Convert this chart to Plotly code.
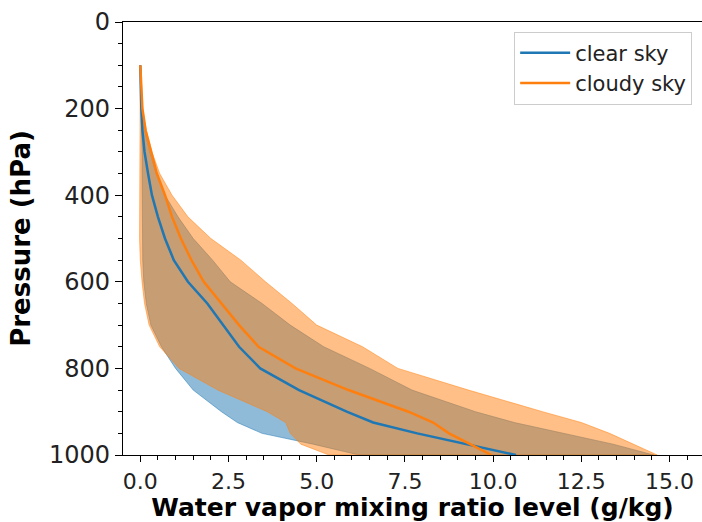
import plotly.graph_objects as go

# Pressure levels (hPa)
pressure = [100, 150, 200, 250, 300, 350, 400, 450, 500, 550, 600, 650,
            700, 750, 800, 850, 900, 925, 950, 975, 1000]

# Clear sky: mean and band edges (g/kg)
clear_mean = [0.0, 0.01, 0.03, 0.06, 0.12, 0.22, 0.33, 0.5, 0.7, 0.95, 1.35, 1.9,
              2.35, 2.8, 3.4, 4.5, 5.85, 6.6, 7.85, 9.25, 10.65]
clear_upper = [0.0, 0.02, 0.05, 0.12, 0.27, 0.45, 0.7, 1.07, 1.5, 2.05, 2.55, 3.45,
               4.25, 5.2, 6.5, 7.7, 9.5, 10.6, 12.0, 13.4, 14.55]
clear_lower = [0.0, 0.0, 0.02, 0.04, 0.05, 0.05, 0.05, 0.05, 0.06, 0.07, 0.1, 0.17,
               0.3, 0.6, 1.0, 1.5, 2.3, 2.75, 3.45, 4.9, 6.2]

# Cloudy sky: mean and band edges (g/kg)
cloudy_mean = [0.0, 0.02, 0.06, 0.15, 0.3, 0.47, 0.7, 0.9, 1.15, 1.45, 1.8, 2.3,
               2.8, 3.35, 4.4, 5.9, 7.6, 8.3, 8.75, 9.35, 9.95]
cloudy_upper = [0.0, 0.02, 0.07, 0.17, 0.33, 0.55, 0.9, 1.35, 2.0, 2.85, 3.55, 4.3,
                5.0, 6.3, 7.3, 9.3, 11.4, 12.5, 13.3, 14.0, 14.65]
cloudy_lower = [0.0, 0.0, 0.0, -0.01, -0.02, -0.02, -0.02, -0.02, -0.02, 0.0, 0.05, 0.12,
                0.25, 0.55, 1.1, 2.2, 3.6, 4.12, 4.25, 4.55, 5.35]

x_ticks = [0.0, 2.5, 5.0, 7.5, 10.0, 12.5, 15.0]
y_ticks = [0, 200, 400, 600, 800, 1000]

BLUE = "#1f77b4"
ORANGE = "#ff7f0e"
BLUE_FILL = "rgba(31,119,180,0.5)"
ORANGE_FILL = "rgba(255,127,14,0.5)"

fig = go.Figure()


def band(upper, lower, fill):
    return go.Scatter(
        x=list(upper) + list(lower)[::-1],
        y=list(pressure) + list(pressure)[::-1],
        fill="toself", fillcolor=fill,
        line=dict(color=fill, width=1),
        mode="lines", showlegend=False, hoverinfo="skip",
    )


fig.add_trace(band(clear_upper, clear_lower, BLUE_FILL))
fig.add_trace(band(cloudy_upper, cloudy_lower, ORANGE_FILL))
fig.add_trace(go.Scatter(x=clear_mean, y=pressure, mode="lines", name="clear sky",
                         line=dict(color=BLUE, width=2.5)))
fig.add_trace(go.Scatter(x=cloudy_mean, y=pressure, mode="lines", name="cloudy sky",
                         line=dict(color=ORANGE, width=2.5)))

font_family = "DejaVu Sans"

fig.update_layout(
    width=702, height=522,
    margin=dict(l=123, r=0, t=22, b=67, autoexpand=False),
    paper_bgcolor="white", plot_bgcolor="white",
    font=dict(family=font_family, color="black"),
    legend=dict(
        x=0.983, y=0.978, xanchor="right", yanchor="top",
        bgcolor="rgba(255,255,255,0.8)", bordercolor="#cccccc", borderwidth=1,
        font=dict(size=21, family=font_family, color="#222222"),
        itemwidth=50, tracegroupgap=0,
    ),
    xaxis=dict(
        range=[-0.49, 15.92],
        tickvals=x_ticks, ticktext=[f"{v:.1f}" for v in x_ticks],
        ticks="outside", ticklen=6, tickwidth=1.2, tickcolor="black",
        showline=True, linecolor="black", linewidth=1.2, mirror=True,
        showgrid=False, zeroline=False,
        tickfont=dict(size=22, family=font_family, color="#222222"),
        minor=dict(dtick=0.5, tick0=0, ticks="outside", ticklen=4, tickcolor="black", showgrid=False),
        title=dict(text="<b>Water vapor mixing ratio level (g/kg)</b>",
                   font=dict(size=25, family=font_family, color="black"), standoff=5),
    ),
    yaxis=dict(
        range=[1000, 0],
        tickvals=y_ticks, ticktext=[str(v) for v in y_ticks],
        ticks="outside", ticklen=7, tickwidth=1.2, tickcolor="black",
        showline=True, linecolor="black", linewidth=1.2, mirror=False,
        showgrid=False, zeroline=False,
        tickfont=dict(size=24, family=font_family, color="#222222"),
        minor=dict(dtick=50, tick0=0, ticks="outside", ticklen=4, tickcolor="black", showgrid=False),
        title=dict(text="<b>Pressure (hPa)</b>",
                   font=dict(size=26, family=font_family, color="black"), standoff=10),
    ),
)

fig.write_html("out.html",
               config={"displayModeBar": False},
               post_script="document.body.style.margin='0px';document.body.style.overflow='hidden';")
